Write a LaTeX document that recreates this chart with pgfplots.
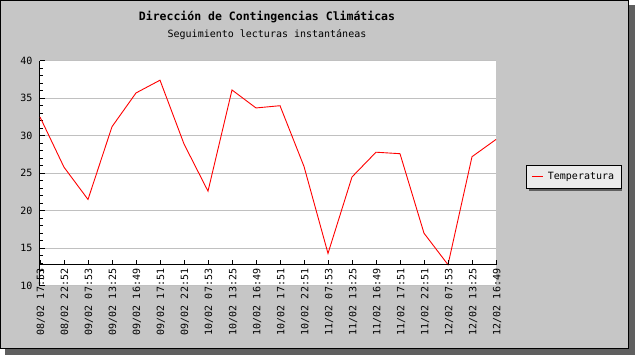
\documentclass[border=0pt]{standalone}
\usepackage{pgfplots}
\pgfplotsset{compat=1.18}
\usepackage{fontspec}
\setmainfont{DejaVu Sans Mono}
\newfontfamily\mono{DejaVu Sans Mono}
\definecolor{bggray}{HTML}{C6C6C6}
\definecolor{shadowgray}{HTML}{5F5F5F}
\definecolor{legendgray}{HTML}{EBEBEB}
\definecolor{gridgray}{HTML}{C0C0C0}
\newcommand{\tickfont}{\mono\fontsize{10bp}{12bp}\selectfont}
\begin{document}
\begin{tikzpicture}
\useasboundingbox (0bp,0bp) rectangle (635bp,-355bp);
\fill[shadowgray] (5bp,-5bp) rectangle (635bp,-355bp);
\filldraw[fill=bggray, draw=black, line width=1bp] (0.5bp,-0.5bp) rectangle (628.5bp,-348.5bp);
\fill[shadowgray] (529bp,-168bp) rectangle (622.3bp,-190.7bp);
\node[anchor=base, inner sep=0pt, font=\mono\bfseries\fontsize{11.5bp}{13bp}\selectfont] at (267bp,-20.3bp) {Dirección de Contingencias Climáticas};
\node[anchor=base, inner sep=0pt, font=\tickfont] at (267bp,-37.3bp) {Seguimiento lecturas instantáneas};
\begin{axis}[
  at={(40bp,-285.7bp)}, anchor=south west,
  scale only axis, width=456bp, height=225bp,
  xmin=0, xmax=19, ymin=10, ymax=40,
  axis x line=none, axis y line=left,
  axis line style={-, black, line width=1bp},
  axis background/.style={fill=white},
  ytick={10,15,...,40},
  minor y tick num=4,
  tick align=inside,
  major tick length=5bp, minor tick length=3bp,
  tick style={black, line width=0.8bp},
  ymajorgrids, grid style={gridgray, line width=0.8bp},
  /pgf/number format/assume math mode=true,
  yticklabel style={font=\tickfont, anchor=east, inner sep=0pt, xshift=-7.5bp},
  legend style={at={(1.0658,0.5364)}, anchor=north west, fill=legendgray, draw=black, line width=0.8bp,
    font=\tickfont, inner xsep=4.7bp, inner ysep=0bp, column sep=4.3bp,
    nodes={inner sep=0pt, text width=68.6bp, align=left, minimum height=22.7bp}},
  legend image code/.code={\draw[red, line width=1.5bp] (0bp,0.2bp) -- (11bp,0.2bp);},
  clip=false,
]
\addplot[red, line width=0.9bp] coordinates {
(0,32.5) (1,25.8) (2,21.5) (3,31.2) (4,35.7) (5,37.4) (6,28.9) (7,22.6) (8,36.1) (9,33.7)
(10,34.0) (11,25.9) (12,14.3) (13,24.5) (14,27.8) (15,27.6) (16,17.0) (17,12.8) (18,27.2) (19,29.5)
};
\addlegendentry{Temperatura}
\end{axis}
\begin{axis}[
  at={(40bp,-60.7bp)}, anchor=north west,
  scale only axis, width=456bp, height=204bp,
  xmin=0, xmax=19, ymin=12.8, ymax=40,
  axis x line=bottom, axis y line=none,
  axis line style={-, black, line width=1bp},
  xtick={0,...,19},
  xticklabels={08/02 17:53,08/02 22:52,09/02 07:53,09/02 13:25,09/02 16:49,09/02 17:51,09/02 22:51,10/02 07:53,10/02 13:25,10/02 16:49,10/02 17:51,10/02 22:51,11/02 07:53,11/02 13:25,11/02 16:49,11/02 17:51,11/02 22:51,12/02 07:53,12/02 13:25,12/02 16:49},
  tick align=inside,
  major tick length=5bp,
  tick style={black, line width=0.8bp},
  xticklabel style={font=\tickfont, rotate=90, anchor=east, inner sep=0pt, xshift=-4bp, yshift=-1bp},
]
\end{axis}
\end{tikzpicture}
\end{document}
